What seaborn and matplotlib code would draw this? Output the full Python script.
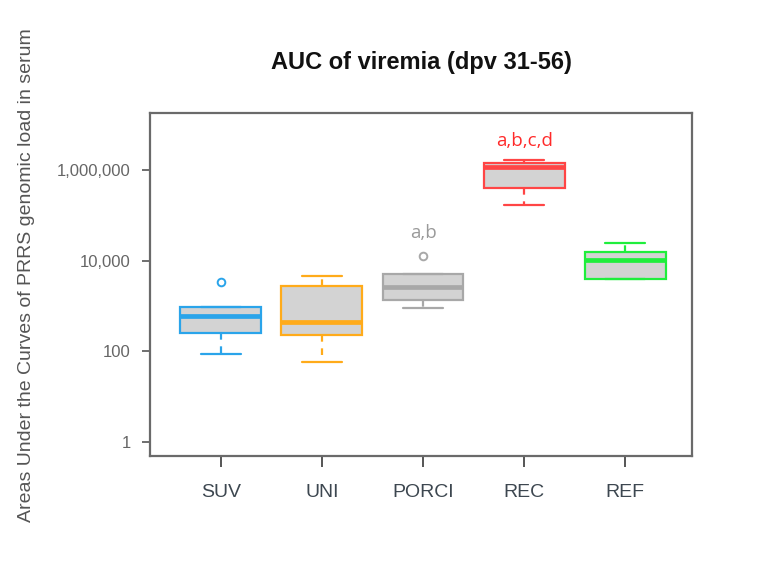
import pandas as pd
import seaborn as sns
import matplotlib.pyplot as plt
import matplotlib.ticker as mticker

# groups and colours of the boxes
groups = ["SUV", "UNI", "PORCI", "REC", "REF"]
edge_colors = ["#2aa4ea", "#ffab1a", "#a8a8a8", "#ff4545", "#1fee3c"]

# AUC values (9 animals per group)
suv = [88, 150, 256, 420, 617, 800, 940, 940, 3350]
uni = [58, 120, 235, 330, 457, 1500, 2780, 3500, 4640]
porci = [917, 1100, 1360, 2000, 2600, 4000, 5060, 5060, 12900]
rec = [176000, 300000, 412000, 900000, 1190000, 1300000, 1430000, 1600000, 1730000]
ref = [3980, 3980, 3980, 8000, 10700, 13000, 16100, 20000, 25500]

# significance letters above groups
sig_groups = ["PORCI", "REC"]
sig_labels = ["a,b", "a,b,c,d"]
sig_y = [42000, 4400000]
sig_colors = ["#9a9a9a", "#ff2a2a"]

df = pd.DataFrame({
    "group": [g for g, v in zip(groups, [suv, uni, porci, rec, ref]) for _ in v],
    "auc": suv + uni + porci + rec + ref,
})

sns.set_style("white")
plt.rcParams["font.family"] = ["Liberation Sans", "DejaVu Sans"]

fig = plt.figure(figsize=(7.58, 5.86), dpi=100)
ax = fig.add_axes([150 / 758, 1 - 456 / 586, 542 / 758, 343 / 586])

# one call per group so each box gets its own line colour
for g, c in zip(groups, edge_colors):
    sns.boxplot(data=df[df.group == g], x="group", y="auc", order=groups,
                color="#d3d3d3", linecolor=c, saturation=1, width=0.8,
                linewidth=1.6, whis=1.5, ax=ax,
                medianprops={"linewidth": 3.4, "color": c},
                whiskerprops={"linestyle": (0, (3, 3)), "color": c},
                capprops={"color": c},
                flierprops={"marker": "o", "markerfacecolor": "none",
                            "markeredgecolor": c, "markersize": 5.5,
                            "markeredgewidth": 1.4})

ax.set_yscale("log")
ax.set_ylim(10 ** -0.31, 10 ** 7.27)
ax.set_xlim(-0.7, 4.66)
ax.yaxis.set_major_locator(mticker.FixedLocator([1, 100, 10000, 1000000]))
ax.yaxis.set_minor_locator(mticker.NullLocator())
ax.yaxis.set_major_formatter(mticker.FuncFormatter(lambda v, p: f"{v:,.0f}"))

for gname, lab, yv, col in zip(sig_groups, sig_labels, sig_y, sig_colors):
    ax.text(groups.index(gname), yv, lab, color=col, ha="center",
            va="center", fontsize=13.5, family=["Open Sans", "DejaVu Sans"])

for s in ax.spines.values():
    s.set_color("#6a6a6a")
    s.set_linewidth(1.6)
    s.set_visible(True)

ax.tick_params(axis="y", which="major", direction="out", length=6, width=1.2,
               color="#555555", labelcolor="#666666", labelsize=12, pad=8,
               left=True)
ax.tick_params(axis="x", which="major", direction="out", length=8, width=1.4,
               color="#555555", labelcolor="#3d4750", labelsize=14, pad=12,
               bottom=True)
ax.set_xlabel("")
ax.set_ylabel("")

fig.text(27 / 758, 1 - 275 / 586,
         "Areas Under the Curves of PRRS genomic load in serum",
         rotation=90, ha="center", va="center", fontsize=14, color="#555555")
fig.text(421 / 758, 1 - 63 / 586, "AUC of viremia (dpv 31-56)",
         ha="center", va="center", fontsize=17, fontweight="bold",
         color="#111111")

fig.savefig("out.png", dpi=100)
